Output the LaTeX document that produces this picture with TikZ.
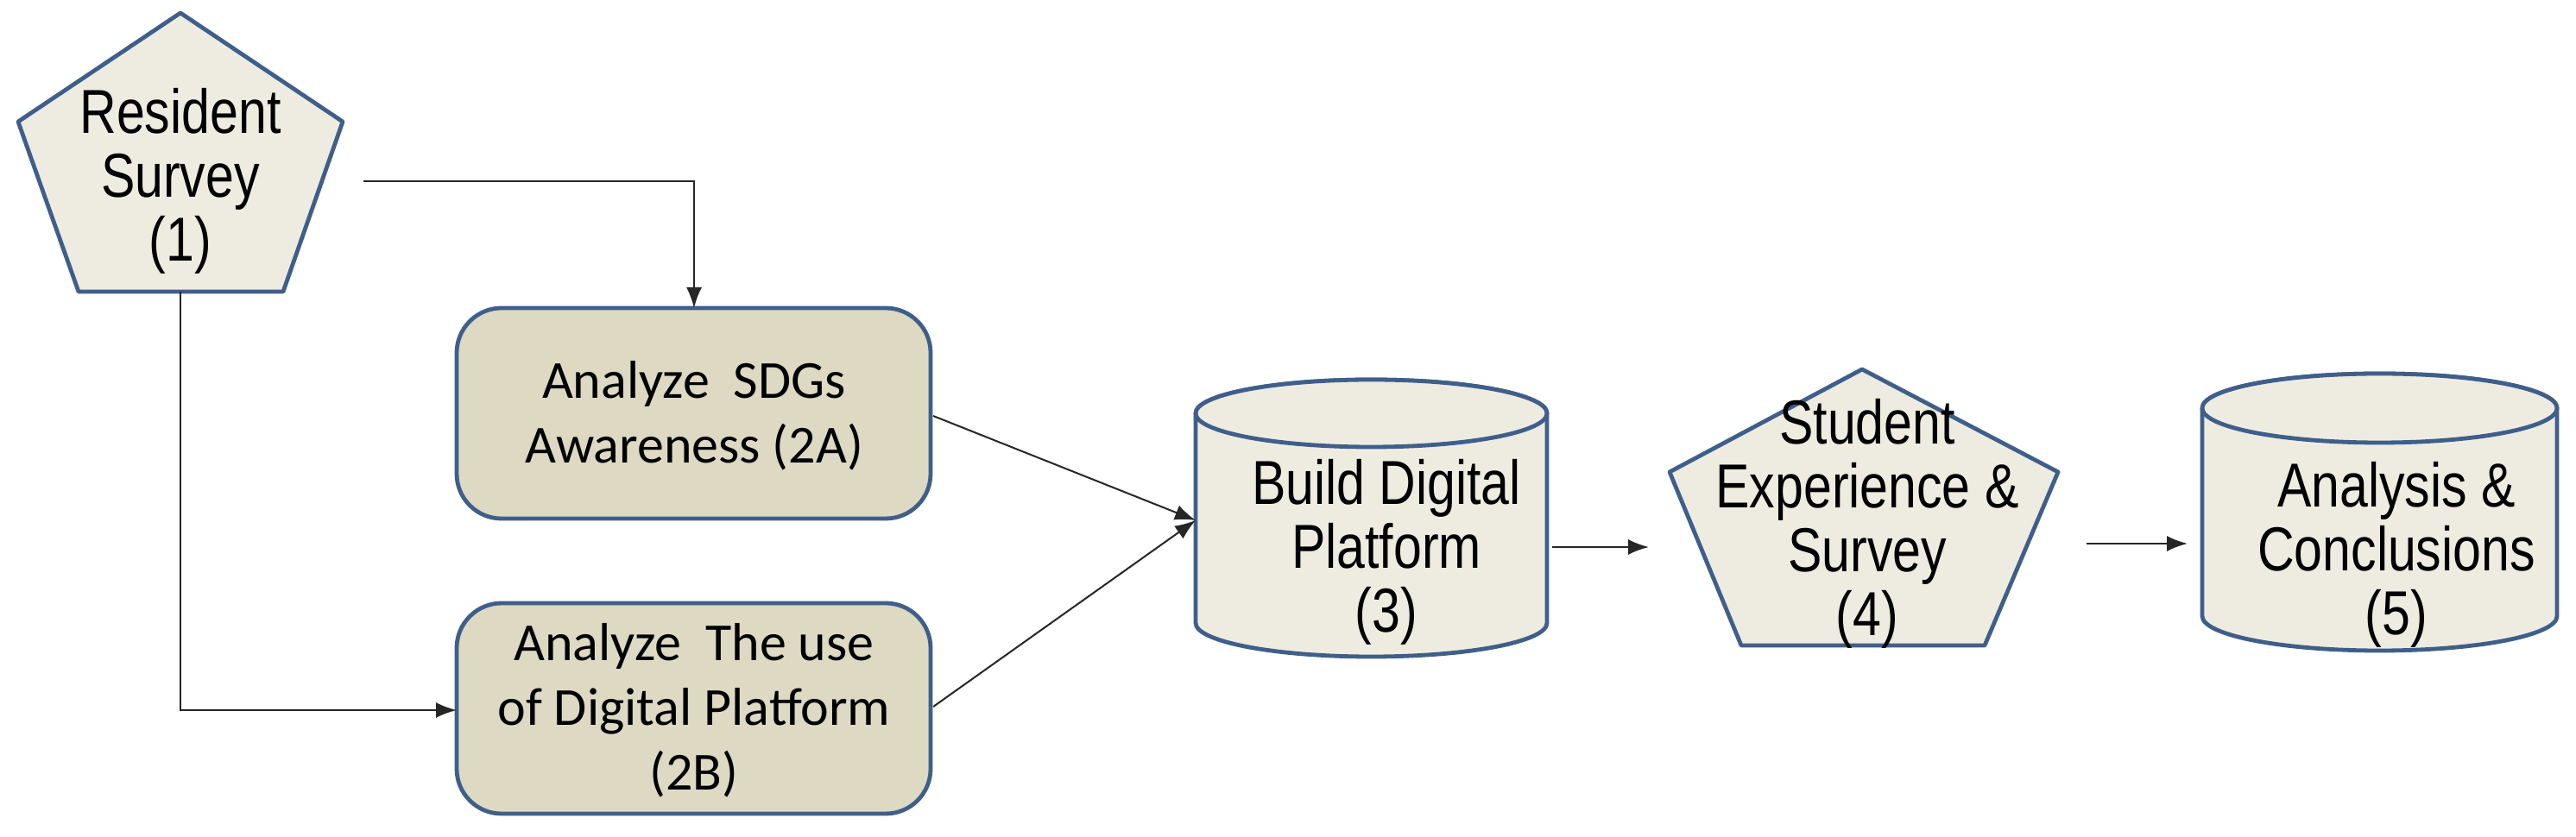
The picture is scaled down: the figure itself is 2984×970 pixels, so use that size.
\documentclass[tikz,border=0pt]{standalone}
\usepackage{fontspec}
\usetikzlibrary{arrows.meta}
\newfontfamily\narrowf{Liberation Sans}[FakeStretch=0.82]
\newfontfamily\calf{Carlito}
\begin{document}
\begin{tikzpicture}[x=0.25pt,y=-0.25pt,
  edge/.style={draw=bord,line width=1.2pt,line join=round},
  lightfill/.style={fill=lightbg},
  arr/.style={-{Latex[length=6pt,width=4.5pt]},line width=0.5pt,black!85},
  ntext/.style={align=center,font=\narrowf\fontsize{18}{18.5}\selectfont,inner sep=0pt},
  ctext/.style={align=center,font=\calf\fontsize{15.5}{18.75}\selectfont,inner sep=0pt}]
\definecolor{lightbg}{HTML}{EEECE1}
\definecolor{boxbg}{HTML}{DDD9C3}
\definecolor{bord}{HTML}{3F5F8A}
\useasboundingbox (0,0) rectangle (2984,970);
% pentagon 1
\draw[edge,lightfill] (209,15) -- (397,141) -- (328,338) -- (91,338) -- (21,141) -- cycle;
\node[ntext] (n1) at (209,210) {Resident\\Survey\\(1)};
% boxes
\draw[edge,fill=boxbg,rounded corners=13pt] (529,357) rectangle (1078,601);
\node[ctext] (n2a) at (804,482) {Analyze\ \ SDGs\\Awareness (2A)};
\draw[edge,fill=boxbg,rounded corners=13pt] (529,699) rectangle (1078,943);
\node[ctext] (n2b) at (804,823) {Analyze\ \ The use\\of Digital Platform\\(2B)};
% cylinder 3
\draw[edge,lightfill] (1385,479) -- (1385,722) arc[start angle=180,end angle=0,x radius=203.5,y radius=39] -- (1792,479) arc[start angle=0,end angle=-180,x radius=203.5,y radius=39];
\draw[edge,lightfill] (1588.5,479) ellipse[x radius=203.5,y radius=39];
\node[ntext] (n3) at (1606,640) {Build Digital\\Platform\\(3)};
% pentagon 4
\draw[edge,lightfill] (2157,428) -- (2384,547) -- (2299,748) -- (2017,748) -- (1934,547) -- cycle;
\node[ntext] (n4) at (2163,607) {Student\\Experience \&\\Survey\\(4)};
% cylinder 5
\draw[edge,lightfill] (2551,473) -- (2551,714) arc[start angle=180,end angle=0,x radius=205.5,y radius=40] -- (2962,473) arc[start angle=0,end angle=-180,x radius=205.5,y radius=40];
\draw[edge,lightfill] (2756.5,473) ellipse[x radius=205.5,y radius=40];
\node[ntext] (n5) at (2776,643) {Analysis \&\\Conclusions\\(5)};
% connector endpoints
\coordinate (s1a) at (421,210);
\coordinate (t2a) at (804,357);
\coordinate (s1b) at (209,338);
\coordinate (t2b) at (529,823);
\coordinate (s2a) at (1081,482);
\coordinate (s2b) at (1081,819);
\coordinate (t3) at (1385,603);
\coordinate (s3) at (1798,634);
\coordinate (t4) at (1910,634);
\coordinate (s4) at (2417,630);
\coordinate (t5) at (2534,630);
\draw[arr] (s1a) -| (t2a);
\draw[arr] (s1b) |- (t2b);
\draw[arr] (s2a) -- (t3);
\draw[arr] (s2b) -- (t3);
\draw[arr] (s3) -- (t4);
\draw[arr] (s4) -- (t5);
\end{tikzpicture}
\end{document}
